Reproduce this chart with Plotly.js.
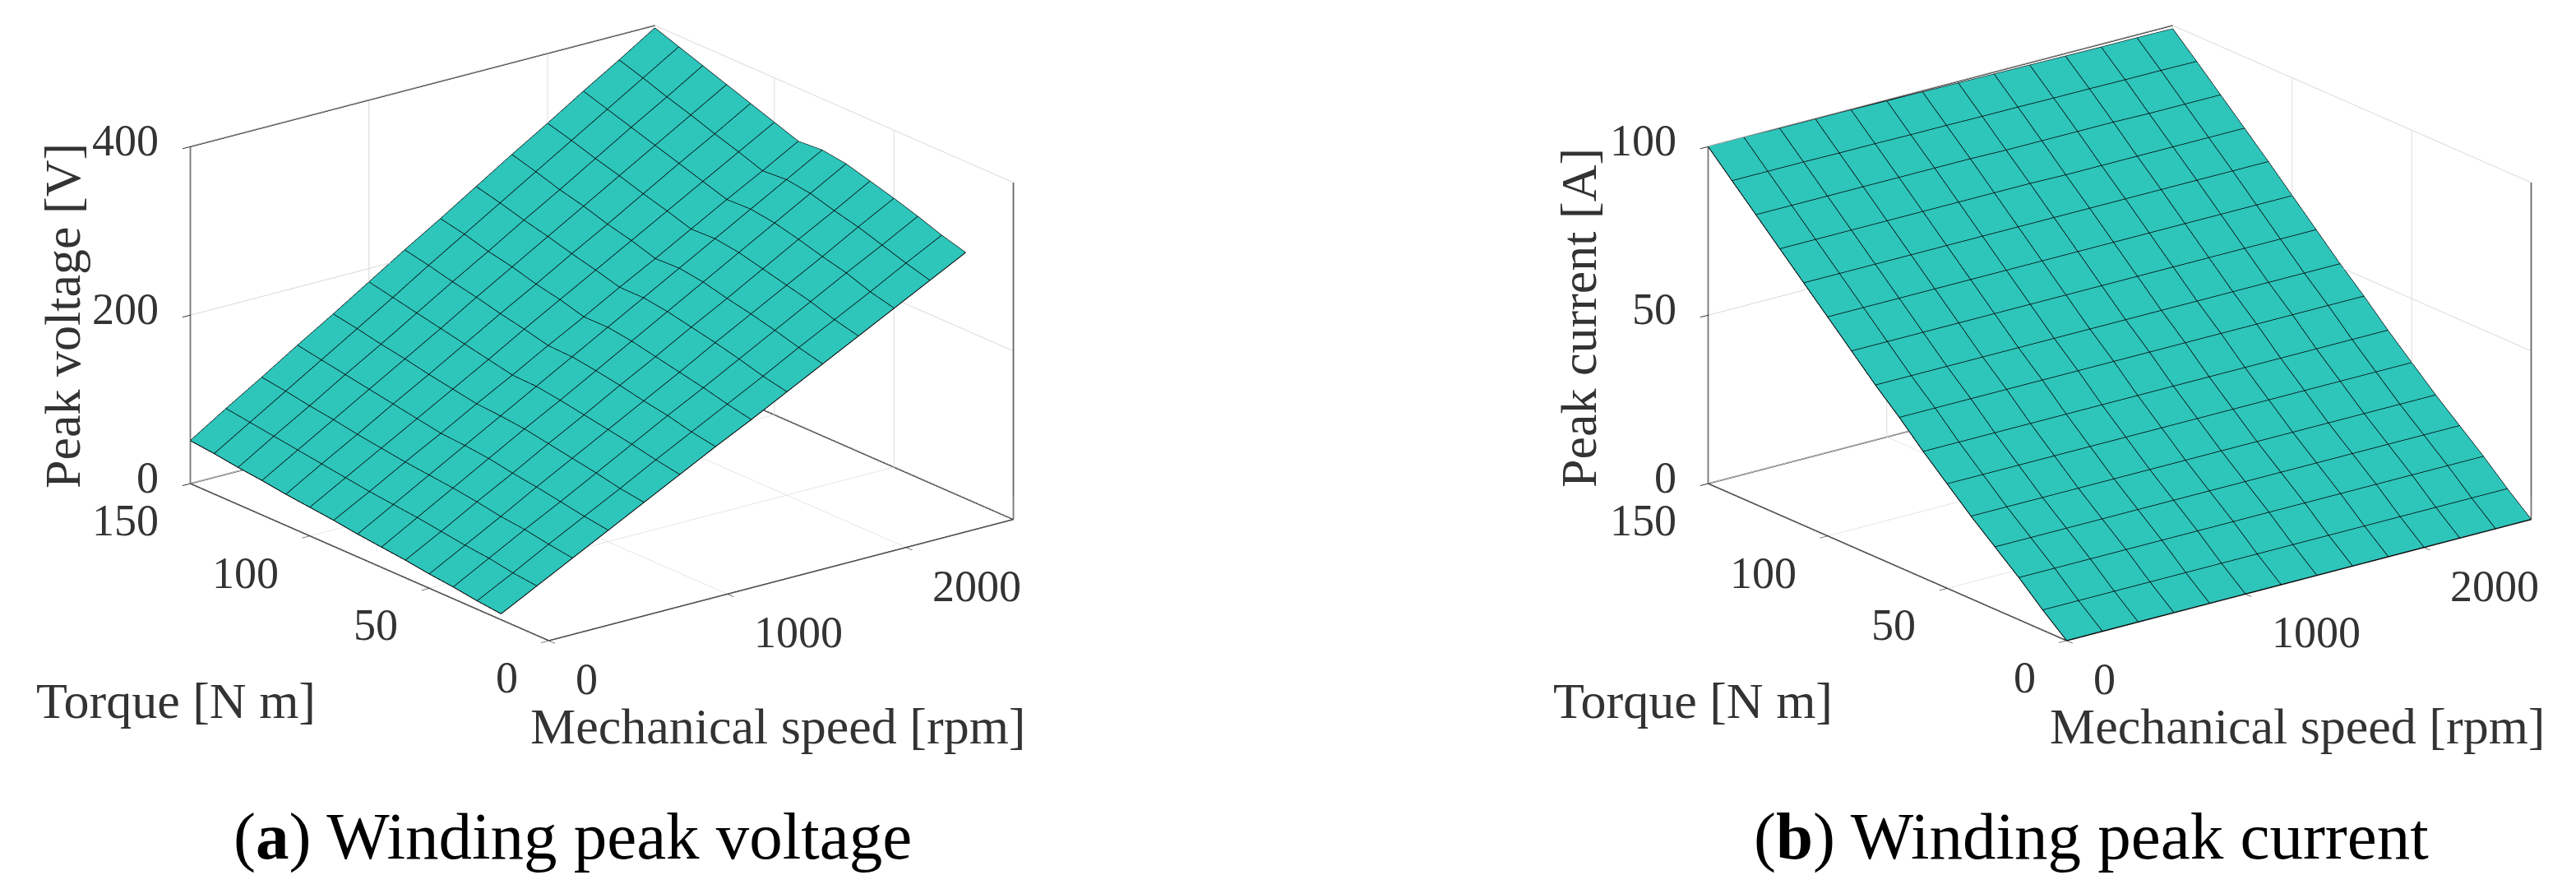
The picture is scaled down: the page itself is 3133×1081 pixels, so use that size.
<!DOCTYPE html>
<html>
<head>
<meta charset="utf-8">
<script src="https://cdn.plot.ly/plotly-3.0.1.min.js"></script>
<style>html,body{margin:0;padding:0;background:#fff}</style>
</head>
<body>
<div id="chart" style="width:3133px;height:1081px"></div>
<script>
// ------------------------------------------------------------
// data
// ------------------------------------------------------------
const speeds = [0, 200, 400, 600, 800, 1000, 1200, 1400, 1600, 1800, 2000, 2200, 2400, 2600]
const torquesA = [20, 30, 40, 50, 60, 70, 80, 90, 100, 110, 120, 130, 140, 150]
const torquesB = [0, 10, 20, 30, 40, 50, 60, 70, 80, 90, 100, 110, 120, 130, 140, 150]

const peakVoltage = [
    [7, 29, 51, 73, 95, 117, 139, 160, 182, 204, 226, 248, 270, 292],
    [10, 32, 55, 77, 99, 122, 144, 166, 188, 211, 233, 255, 278, 300],
    [14, 37, 60, 82, 105, 128, 151, 173, 196, 219, 242, 265, 287, 310],
    [17, 40, 63, 87, 110, 133, 156, 179, 203, 226, 249, 272, 296, 319],
    [21, 44, 68, 91, 115, 138, 162, 185, 209, 232, 256, 280, 303, 327],
    [24, 48, 72, 96, 120, 143, 167, 191, 215, 239, 263, 287, 311, 335],
    [27, 51, 75, 99, 123, 147, 171, 195, 219, 243, 267, 291, 315, 339],
    [31, 54, 78, 101, 125, 148, 172, 195, 219, 242, 266, 290, 313, 337],
    [34, 58, 82, 106, 130, 154, 179, 203, 227, 251, 275, 299, 323, 347],
    [37, 62, 86, 111, 135, 160, 185, 209, 234, 258, 283, 308, 332, 357],
    [41, 66, 91, 116, 141, 166, 192, 217, 242, 267, 292, 317, 342, 367],
    [44, 70, 95, 121, 146, 172, 198, 223, 249, 274, 300, 326, 351, 377],
    [48, 74, 100, 126, 152, 178, 205, 231, 257, 283, 309, 335, 361, 387],
    [51, 78, 104, 131, 157, 184, 211, 237, 264, 291, 317, 344, 370, 397]
]

const peakCurrent = [
    [0, 0, 0, 0, 0, 0, 0, 0, 0, 0, 0, 0, 0, 0],
    [6, 6, 6, 6, 6, 6, 6, 6, 6, 6, 6, 6, 6, 6],
    [12.5, 12.5, 12.5, 12.5, 12.5, 12.5, 12.5, 12.5, 12.5, 12.5, 12.5, 12.5, 12.5, 12.5],
    [18.5, 18.5, 18.5, 18.5, 18.5, 18.5, 18.5, 18.5, 18.5, 18.5, 18.5, 18.5, 18.5, 18.5],
    [24.5, 24.5, 24.5, 24.5, 24.5, 24.5, 24.5, 24.5, 24.5, 24.5, 24.5, 24.5, 24.5, 24.5],
    [31, 31, 31, 31, 31, 31, 31, 31, 31, 31, 31, 31, 31, 31],
    [37.5, 37.5, 37.5, 37.5, 37.5, 37.5, 37.5, 37.5, 37.5, 37.5, 37.5, 37.5, 37.5, 37.5],
    [44.5, 44.5, 44.5, 44.5, 44.5, 44.5, 44.5, 44.5, 44.5, 44.5, 44.5, 44.5, 44.5, 44.5],
    [51, 51, 51, 51, 51, 51, 51, 51, 51, 51, 51, 51, 51, 51],
    [58, 58, 58, 58, 58, 58, 58, 58, 58, 58, 58, 58, 58, 58],
    [65, 65, 65, 65, 65, 65, 65, 65, 65, 65, 65, 65, 65, 65],
    [72, 72, 72, 72, 72, 72, 72, 72, 72, 72, 72, 72, 72, 72],
    [79, 79, 79, 79, 79, 79, 79, 79, 78.8, 78.8, 78.8, 78.8, 78.8, 78.8],
    [86, 86, 86, 86, 86, 86, 86, 85.8, 85.8, 85.8, 85.8, 85.6, 85.6, 85.6],
    [93, 93, 93, 92.9, 92.9, 92.8, 92.8, 92.7, 92.7, 92.6, 92.6, 92.5, 92.5, 92.4],
    [100, 100, 99.9, 99.9, 99.8, 99.7, 99.6, 99.5, 99.4, 99.3, 99.2, 99.1, 99.1, 99]
]

const speedTicks = [0, 1000, 2000]
const torqueTicks = [0, 50, 100, 150]
const voltageTicks = [0, 200, 400]
const currentTicks = [0, 50, 100]

const speedRange = [0, 2600]
const torqueRange = [0, 150]
const voltageRange = [0, 400]
const currentRange = [0, 100]

// ------------------------------------------------------------
// helpers
// ------------------------------------------------------------
const W = 3133
const H = 1081
const FONT = 'Liberation Serif'
const TEAL = '#2ec5bb'
const TEXT = '#333333'
const EYE = {x: -0.575, y: -0.745, z: 0.338}
const EYE_SCALE = 6
const ASPECT = 1.83

// box edges that MATLAB draws (no front top edges)
function boxTrace(scene, zRange) {
    const x0 = speedRange[0], x1 = speedRange[1]
    const y0 = torqueRange[0], y1 = torqueRange[1]
    const z0 = zRange[0], z1 = zRange[1]
    return {
        type: 'scatter3d', mode: 'lines', scene: scene, hoverinfo: 'skip', showlegend: false,
        line: {color: '#1a1a1a', width: 3},
        x: [x0, x1, x1, x1, null, x0, x0, x1, x1, null, x0, x0, x1, null, x0, x1],
        y: [y0, y0, y0, y0, null, y0, y1, y1, y0, null, y1, y1, y1, null, y0, y0],
        z: [z0, z0, z0, z1, null, z0, z0, z0, z0, null, z0, z1, z1, null, z0, z0]
    }
}

function surfaceTrace(scene, torques, values) {
    const lineStyle = {show: true, color: '#000000', width: 2, highlight: false}
    return {
        type: 'surface', scene: scene, x: speeds, y: torques, z: values,
        colorscale: [[0, TEAL], [1, TEAL]], showscale: false, hoverinfo: 'skip',
        lighting: {ambient: 1, diffuse: 0, specular: 0, fresnel: 0, roughness: 1},
        contours: {
            x: Object.assign({start: speeds[0], end: speeds[speeds.length - 1], size: 200}, lineStyle),
            y: Object.assign({start: torques[0], end: torques[torques.length - 1], size: 10}, lineStyle),
            z: {highlight: false}
        }
    }
}

// black mesh along every row and column of the table, with null gaps between lines
function meshTrace(scene, torques, values) {
    const xs = [], ys = [], zs = []
    torques.forEach((t, i) => {
        speeds.forEach((s, j) => { xs.push(s); ys.push(t); zs.push(values[i][j]) })
        xs.push(null); ys.push(null); zs.push(null)
    })
    speeds.forEach((s, j) => {
        torques.forEach((t, i) => { xs.push(s); ys.push(t); zs.push(values[i][j]) })
        xs.push(null); ys.push(null); zs.push(null)
    })
    return {
        type: 'scatter3d', mode: 'lines', scene: scene, hoverinfo: 'skip', showlegend: false,
        line: {color: '#000000', width: 2},
        x: xs, y: ys, z: zs
    }
}

function axisStyle(range, ticks) {
    return {
        range: range, tickmode: 'array', tickvals: ticks, showticklabels: false,
        ticks: 'outside', ticklen: 12, tickcolor: '#333333', tickwidth: 2,
        showgrid: true, gridcolor: '#d9d9d9', gridwidth: 2,
        showline: false, zeroline: false, showbackground: false, showspikes: false,
        title: {text: ''}
    }
}

function tickLabel(x, y, z, text, xanchor, xshift, yshift) {
    return {
        x: x, y: y, z: z, text: String(text), showarrow: false,
        xanchor: xanchor, yanchor: 'middle', xshift: xshift, yshift: yshift,
        font: {family: FONT, size: 54, color: TEXT}
    }
}

function sceneLayout(domainX, zRange, zTicks) {
    const annotations = []
    speedTicks.forEach(v => annotations.push(tickLabel(v, torqueRange[0], zRange[0], v, 'left', 30, -47)))
    torqueTicks.forEach(v => annotations.push(tickLabel(speedRange[0], v, zRange[0], v, 'right', -36, -45)))
    zTicks.forEach(v => annotations.push(tickLabel(speedRange[0], torqueRange[1], v, v, 'right', -36, 7)))
    return {
        domain: {x: domainX, y: [1 - 795 / H, 1 - 15 / H]},
        xaxis: axisStyle(speedRange, speedTicks),
        yaxis: axisStyle(torqueRange, torqueTicks),
        zaxis: axisStyle(zRange, zTicks),
        aspectmode: 'manual',
        aspectratio: {x: ASPECT, y: ASPECT, z: ASPECT * 0.61},
        camera: {
            projection: {type: 'orthographic'},
            center: {x: 0, y: 0, z: 0},
            up: {x: 0, y: 0, z: 1},
            eye: {x: EYE.x * EYE_SCALE, y: EYE.y * EYE_SCALE, z: EYE.z * EYE_SCALE}
        },
        annotations: annotations,
        bgcolor: '#ffffff'
    }
}

function pageLabel(px, py, text, size, angle, color) {
    return {
        xref: 'paper', yref: 'paper', x: px / W, y: 1 - py / H,
        xanchor: 'center', yanchor: 'middle', showarrow: false,
        text: text, textangle: angle || 0,
        font: {family: FONT, size: size, color: color || TEXT}
    }
}

// ------------------------------------------------------------
// draw
// ------------------------------------------------------------
const traces = [
    boxTrace('scene', voltageRange),
    surfaceTrace('scene', torquesA, peakVoltage),
    meshTrace('scene', torquesA, peakVoltage),
    boxTrace('scene2', currentRange),
    surfaceTrace('scene2', torquesB, peakCurrent),
    meshTrace('scene2', torquesB, peakCurrent)
]

const layout = {
    width: W, height: H,
    margin: {l: 0, r: 0, t: 0, b: 0},
    paper_bgcolor: '#ffffff',
    showlegend: false,
    scene: sceneLayout([32 / W, 1432 / W], voltageRange, voltageTicks),
    scene2: sceneLayout([2028 / W, 3128 / W], currentRange, currentTicks),
    annotations: [
        pageLabel(76, 384, 'Peak voltage [V]', 62, -90),
        pageLabel(214, 852, 'Torque [N m]', 62),
        pageLabel(947, 883, 'Mechanical speed [rpm]', 62),
        pageLabel(696, 1017, '(<b>a</b>) Winding peak voltage', 81, 0, '#000000'),
        pageLabel(1920, 387, 'Peak current [A]', 62, -90),
        pageLabel(2059, 852, 'Torque [N m]', 62),
        pageLabel(2794, 883, 'Mechanical speed [rpm]', 62),
        pageLabel(2543, 1017, '(<b>b</b>) Winding peak current', 81, 0, '#000000')
    ]
}

Plotly.newPlot('chart', traces, layout, {displayModeBar: false})
</script>
</body>
</html>
